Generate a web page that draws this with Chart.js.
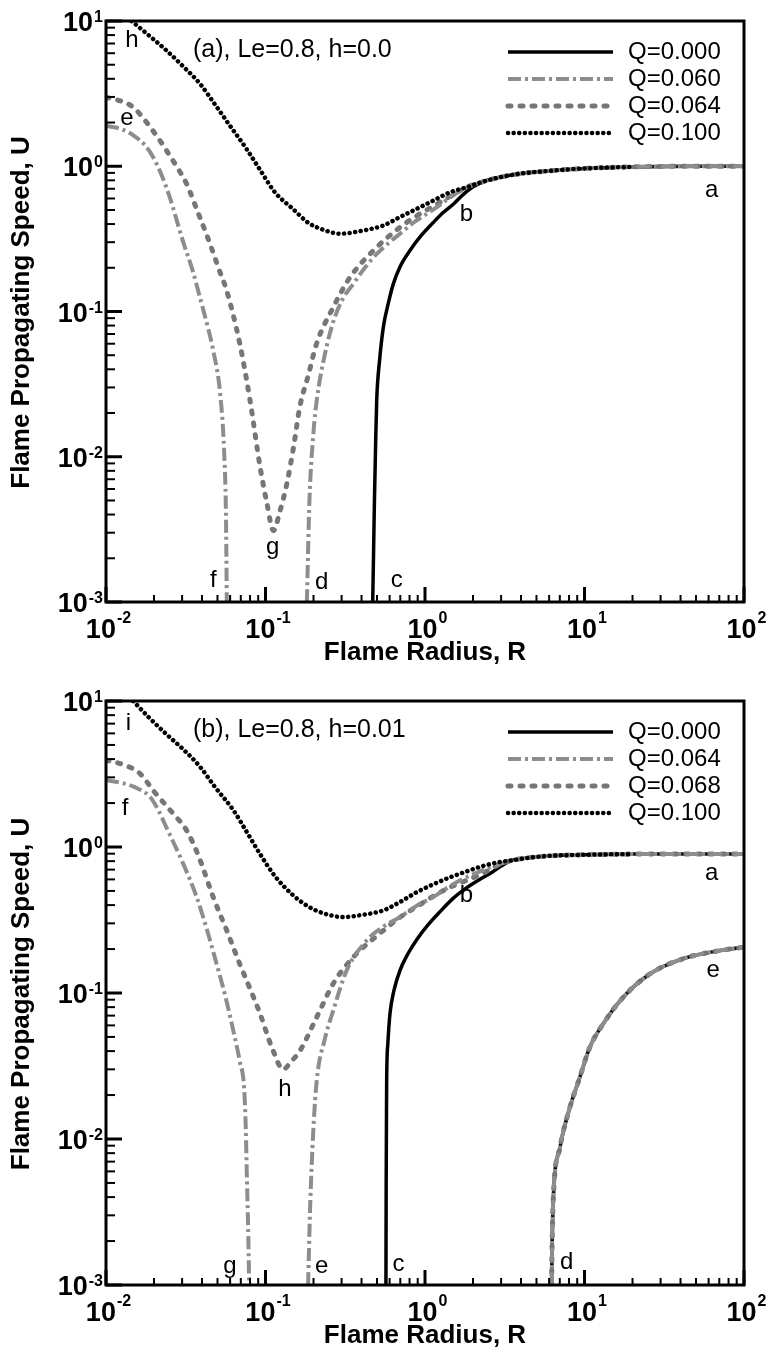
<!DOCTYPE html>
<html>
<head>
<meta charset="utf-8">
<script src="https://cdn.jsdelivr.net/npm/chart.js@4.4.0/dist/chart.umd.min.js"></script>
<style>
  html, body { margin: 0; padding: 0; background: #fff; }
  .panel { position: relative; width: 766px; }
  #wrapA { height: 678px; }
  #wrapB { height: 675px; }
</style>
</head>
<body>
<div class="panel" id="wrapA"><canvas id="chartA"></canvas></div>
<div class="panel" id="wrapB"><canvas id="chartB"></canvas></div>
<script>
// ---------- panel (a): Le=0.8, h=0.0 ----------
const legendA = ['Q=0.000', 'Q=0.060', 'Q=0.064', 'Q=0.100'];

const aQ000R = [0.470, 0.476, 0.482, 0.490, 0.498, 0.520, 0.548, 0.590, 0.633, 0.700, 0.805, 0.950, 1.127, 1.300, 1.510, 1.820];
const aQ000U = [0.001, 0.0022, 0.005, 0.012, 0.0244, 0.047, 0.078, 0.115, 0.155, 0.205, 0.263, 0.335, 0.410, 0.480, 0.550, 0.670];

const aQ060LeftR = [0.0100, 0.0125, 0.0150, 0.0175, 0.0198, 0.0225, 0.0250, 0.0305, 0.0350, 0.0388, 0.0430, 0.0470, 0.0520, 0.0550, 0.0565, 0.0572];
const aQ060LeftU = [1.90, 1.80, 1.62, 1.40, 1.15, 0.85, 0.62, 0.30, 0.19, 0.125, 0.082, 0.054, 0.027, 0.011, 0.004, 0.001];
const aQ060RightR = [0.1817, 0.1886, 0.1997, 0.2095, 0.2350, 0.2660, 0.3050, 0.3550, 0.4200, 0.4980, 0.6000, 0.6970, 0.8500, 1.0260, 1.2500, 1.4350, 1.8200];
const aQ060RightU = [0.001, 0.005, 0.0145, 0.0244, 0.050, 0.085, 0.122, 0.155, 0.200, 0.249, 0.300, 0.343, 0.410, 0.470, 0.545, 0.610, 0.716];

const aQ064R = [0.0100, 0.0125, 0.0148, 0.0180, 0.0218, 0.0240, 0.0280, 0.0320, 0.0380, 0.0449, 0.0510, 0.0570, 0.0690, 0.0800, 0.0925, 0.1020, 0.1120, 0.1230, 0.1360, 0.1500, 0.1640, 0.1850, 0.2090, 0.2660, 0.3390, 0.4750, 0.6970, 0.9000, 1.1270, 1.4350, 1.8200];
const aQ064U = [2.98, 2.80, 2.55, 2.00, 1.50, 1.28, 0.98, 0.757, 0.47, 0.292, 0.196, 0.140, 0.060, 0.0244, 0.0085, 0.0048, 0.0031, 0.0042, 0.0065, 0.0117, 0.022, 0.036, 0.060, 0.107, 0.172, 0.263, 0.380, 0.460, 0.530, 0.620, 0.716];

const aQ100R = [0.01445, 0.01862, 0.02399, 0.0309, 0.0389, 0.0479, 0.0589, 0.0759, 0.0933, 0.1148, 0.148, 0.1862, 0.234, 0.295, 0.398, 0.548, 0.697, 0.887, 1.127, 1.435, 1.82];
const aQ100U = [10.0, 7.94, 6.25, 4.79, 3.69, 2.69, 1.95, 1.32, 0.93, 0.66, 0.51, 0.407, 0.363, 0.343, 0.359, 0.391, 0.447, 0.509, 0.58, 0.662, 0.716];

const tailAR = [2.29, 2.95, 3.98, 6.10, 10.0, 20.0, 50.0, 100.0];
const tailAU = [0.78, 0.84, 0.89, 0.93, 0.966, 0.99, 1.0, 1.0];

const lettersA = ['h', 'e', 'a', 'b', 'g', 'f', 'd', 'c'];
const letterAR = [0.01455, 0.01355, 62.7, 1.82, 0.111, 0.0471, 0.225, 0.665];
const letterAU = [7.33, 2.13, 0.68, 0.47, 0.00239, 0.00141, 0.00137, 0.00141];

// ---------- panel (b): Le=0.8, h=0.01 ----------
const legendB = ['Q=0.000', 'Q=0.064', 'Q=0.068', 'Q=0.100'];

const bQ000R = [0.569, 0.571, 0.573, 0.575, 0.585, 0.603, 0.640, 0.697, 0.780, 0.887, 1.050, 1.240, 1.500, 1.820, 2.200, 2.650, 3.000];
const bQ000U = [0.001, 0.005, 0.012, 0.0251, 0.045, 0.072, 0.105, 0.143, 0.185, 0.232, 0.295, 0.360, 0.445, 0.525, 0.600, 0.675, 0.740];

const bQ064LeftR = [0.0100, 0.0125, 0.0150, 0.0189, 0.0215, 0.0240, 0.0300, 0.0370, 0.0430, 0.0494, 0.0560, 0.0628, 0.0690, 0.0735, 0.0752, 0.0765, 0.0778, 0.0790];
const bQ064LeftU = [2.87, 2.75, 2.58, 2.20, 1.75, 1.35, 0.80, 0.454, 0.27, 0.158, 0.095, 0.0553, 0.034, 0.022, 0.012, 0.0052, 0.0025, 0.001];
const bQ064RightR = [0.185, 0.190, 0.1994, 0.2095, 0.235, 0.266, 0.323, 0.431, 0.550, 0.697, 0.900, 1.127, 1.400, 1.650, 2.000, 2.500, 3.000];
const bQ064RightU = [0.001, 0.0031, 0.0114, 0.0251, 0.048, 0.076, 0.143, 0.229, 0.285, 0.331, 0.400, 0.454, 0.530, 0.590, 0.650, 0.720, 0.770];

const bQ068R = [0.0100, 0.0125, 0.0163, 0.0200, 0.0264, 0.0320, 0.0380, 0.0470, 0.0570, 0.0690, 0.0800, 0.0925, 0.1100, 0.1290, 0.1450, 0.1640, 0.2090, 0.2660, 0.3550, 0.4200, 0.5480, 0.6970, 0.8870, 1.1270, 1.4350, 1.8200, 2.3000, 2.9500];
const bQ068U = [3.93, 3.70, 3.19, 2.40, 1.69, 1.30, 0.87, 0.454, 0.27, 0.158, 0.107, 0.072, 0.042, 0.030, 0.034, 0.040, 0.068, 0.116, 0.176, 0.210, 0.268, 0.330, 0.390, 0.460, 0.530, 0.590, 0.660, 0.760];

const bQ100R = [0.0148, 0.0186, 0.0240, 0.0309, 0.0389, 0.0479, 0.0628, 0.0759, 0.0933, 0.1148, 0.1480, 0.1862, 0.2340, 0.3070, 0.3980, 0.5480, 0.6970, 0.8870, 1.1270, 1.4350, 1.8200, 2.2900, 2.9500];
const bQ100U = [10.0, 7.70, 5.90, 4.60, 3.54, 2.60, 1.79, 1.28, 0.88, 0.63, 0.47, 0.39, 0.35, 0.331, 0.342, 0.368, 0.420, 0.490, 0.555, 0.620, 0.680, 0.740, 0.790];

const tailBR = [3.5, 4.5, 6.1, 10.0, 20.0, 40.0, 100.0];
const tailBU = [0.81, 0.845, 0.87, 0.885, 0.894, 0.895, 0.895];

// lower (large radius) branch d-e
const bLowR = [6.22, 6.27, 6.38, 7.02, 8.10, 9.20, 10.8, 13.1, 17.5, 25.8, 41.7, 70.0, 100.0];
const bLowU = [0.001, 0.002, 0.004, 0.00875, 0.0165, 0.0251, 0.0425, 0.0615, 0.0936, 0.1355, 0.172, 0.195, 0.206];

const lettersB = ['i', 'f', 'a', 'b', 'e', 'h', 'g', 'e', 'c', 'd'];
const letterBR = [0.0138, 0.01316, 62.7, 1.82, 64.1, 0.1324, 0.0598, 0.225, 0.681, 7.73];
const letterBU = [7.02, 1.83, 0.656, 0.467, 0.1427, 0.022, 0.00135, 0.00135, 0.00139, 0.00143];

// the dotted Q=0.100 curves stop here
const dottedEndR = 20;

const xDecades = [-2, -1, 0, 1, 2];
const yDecades = [-3, -2, -1, 0, 1];
const minorSteps = [2, 3, 4, 5, 6, 7, 8, 9];

const FONT = '"Liberation Sans", Arial, Helvetica, sans-serif';

function pts(R, U) {
  return R.map((r, i) => ({ x: r, y: U[i] }));
}
function upTo(p, rMax) {
  return p.filter(q => q.x <= rMax);
}
// glue segments together, leaving a break between them
function segs(...parts) {
  const out = [];
  parts.forEach((p, k) => {
    if (k > 0) out.push({ x: p[0].x, y: null });
    out.push(...p);
  });
  return out;
}

// solid, dash-dot, dashed, dotted (lower order is drawn on top)
const lineStyles = [
  { borderColor: '#000', borderWidth: 3.5, borderDash: [], borderCapStyle: 'butt', order: 3 },
  { borderColor: '#8d8d8d', borderWidth: 4, borderDash: [13, 4, 3, 4], borderCapStyle: 'butt', order: 1 },
  { borderColor: '#767676', borderWidth: 5, borderDash: [3, 9], borderCapStyle: 'round', order: 2 },
  { borderColor: '#000', borderWidth: 4.5, borderDash: [0.1, 5.5], borderCapStyle: 'round', order: 0 }
];

const framePlugin = {
  id: 'frame',
  afterDatasetsDraw(chart, args, opts) {
    const { ctx, chartArea: a, scales: { x, y } } = chart;
    ctx.save();
    ctx.setLineDash([]);
    ctx.strokeStyle = '#000';
    ctx.lineCap = 'butt';

    // inward ticks on bottom and left axes
    xDecades.forEach(e => {
      const steps = e < 2 ? [1].concat(minorSteps) : [1];
      steps.forEach(m => {
        const px = x.getPixelForValue(m * Math.pow(10, e));
        ctx.lineWidth = m === 1 ? 3 : 2;
        ctx.beginPath();
        ctx.moveTo(px, a.bottom);
        ctx.lineTo(px, a.bottom - (m === 1 ? 15 : 7));
        ctx.stroke();
      });
    });
    yDecades.forEach(e => {
      const steps = e < 1 ? [1].concat(minorSteps) : [1];
      steps.forEach(m => {
        const py = y.getPixelForValue(m * Math.pow(10, e));
        ctx.lineWidth = m === 1 ? 3 : 2;
        ctx.beginPath();
        ctx.moveTo(a.left, py);
        ctx.lineTo(a.left + (m === 1 ? 16 : 9), py);
        ctx.stroke();
      });
    });

    ctx.lineWidth = 3;
    ctx.strokeRect(a.left, a.top, a.right - a.left, a.bottom - a.top);

    // legend
    chart.data.datasets.forEach((ds, i) => {
      const ly = a.top + 31 + i * 27;
      ctx.save();
      ctx.strokeStyle = ds.borderColor;
      ctx.lineWidth = ds.borderWidth;
      ctx.setLineDash(ds.borderDash);
      ctx.lineCap = ds.borderCapStyle;
      ctx.beginPath();
      ctx.moveTo(a.left + 402, ly);
      ctx.lineTo(a.left + 507, ly);
      ctx.stroke();
      ctx.restore();
      ctx.fillStyle = '#000';
      ctx.font = '24px ' + FONT;
      ctx.textAlign = 'left';
      ctx.textBaseline = 'middle';
      ctx.fillText(ds.label, a.left + 522, ly);
    });

    // panel caption and curve letters
    ctx.fillStyle = '#000';
    ctx.font = '25px ' + FONT;
    ctx.textAlign = 'left';
    ctx.textBaseline = 'middle';
    ctx.fillText(opts.caption, a.left + 87, a.top + 29);
    ctx.font = '24px ' + FONT;
    ctx.textAlign = 'center';
    opts.letters.forEach((t, i) => {
      ctx.fillText(t, x.getPixelForValue(opts.letterR[i]), y.getPixelForValue(opts.letterU[i]));
    });

    // axis titles
    ctx.font = 'bold 26px ' + FONT;
    ctx.textAlign = 'center';
    ctx.textBaseline = 'middle';
    ctx.fillText('Flame Radius, R', (a.left + a.right) / 2, a.bottom + 51);
    ctx.save();
    ctx.translate(22, (a.top + a.bottom) / 2 + 1);
    ctx.rotate(-Math.PI / 2);
    ctx.fillText('Flame Propagating Speed, U', 0, 0);
    ctx.restore();

    // power-of-ten tick labels
    const big = 'bold 27px ' + FONT;
    const small = 'bold 16px ' + FONT;
    ctx.textBaseline = 'alphabetic';
    xDecades.forEach(e => {
      const px = x.getPixelForValue(Math.pow(10, e));
      ctx.font = small;
      const ew = ctx.measureText(String(e)).width;
      ctx.font = big;
      const bw = ctx.measureText('10').width;
      const x0 = px - (bw + ew) / 2 + 2;
      ctx.textAlign = 'left';
      ctx.fillText('10', x0, a.bottom + 36);
      ctx.font = small;
      ctx.fillText(String(e), x0 + bw + 1, a.bottom + 21);
    });
    yDecades.forEach(e => {
      const py = y.getPixelForValue(Math.pow(10, e));
      ctx.font = small;
      const ew = ctx.measureText(String(e)).width;
      ctx.textAlign = 'right';
      ctx.fillText(String(e), a.left - 3, py + 1);
      ctx.font = big;
      ctx.fillText('10', a.left - 4 - ew, py + 10);
    });
    ctx.restore();
  }
};

function makeChart(id, curves, labels, caption, letters, letterR, letterU, topPad, axisHeight) {
  const datasets = curves.map((data, i) => Object.assign({
    label: labels[i],
    data: data,
    pointRadius: 0,
    fill: false,
    tension: 0,
    cubicInterpolationMode: 'monotone',
    spanGaps: false
  }, lineStyles[i]));

  return new Chart(document.getElementById(id), {
    type: 'line',
    data: { datasets: datasets },
    plugins: [framePlugin],
    options: {
      responsive: true,
      maintainAspectRatio: false,
      animation: false,
      layout: { padding: { top: topPad, right: 22, left: 0, bottom: 0 } },
      plugins: {
        legend: { display: false },
        tooltip: { enabled: false },
        frame: { caption: caption, letters: letters, letterR: letterR, letterU: letterU }
      },
      scales: {
        x: {
          type: 'logarithmic',
          min: 0.01,
          max: 100,
          grid: { display: false },
          border: { display: false },
          ticks: { display: false },
          afterFit(scale) { scale.height = axisHeight; }
        },
        y: {
          type: 'logarithmic',
          min: 0.001,
          max: 10,
          grid: { display: false },
          border: { display: false },
          ticks: { display: false },
          afterFit(scale) { scale.width = 106; }
        }
      }
    }
  });
}

makeChart('chartA', [
  pts(aQ000R.concat(tailAR), aQ000U.concat(tailAU)),
  segs(pts(aQ060LeftR, aQ060LeftU), pts(aQ060RightR.concat(tailAR), aQ060RightU.concat(tailAU))),
  pts(aQ064R.concat(tailAR), aQ064U.concat(tailAU)),
  upTo(pts(aQ100R.concat(tailAR), aQ100U.concat(tailAU)), dottedEndR)
], legendA, '(a), Le=0.8, h=0.0', lettersA, letterAR, letterAU, 21, 76);

makeChart('chartB', [
  segs(pts(bQ000R.concat(tailBR), bQ000U.concat(tailBU)), pts(bLowR, bLowU)),
  segs(pts(bQ064LeftR, bQ064LeftU), pts(bQ064RightR.concat(tailBR), bQ064RightU.concat(tailBU)), pts(bLowR, bLowU)),
  segs(pts(bQ068R.concat(tailBR), bQ068U.concat(tailBU)), pts(bLowR, bLowU)),
  upTo(pts(bQ100R.concat(tailBR), bQ100U.concat(tailBU)), dottedEndR)
], legendB, '(b), Le=0.8, h=0.01', lettersB, letterBR, letterBU, 23, 68);
</script>
</body>
</html>
